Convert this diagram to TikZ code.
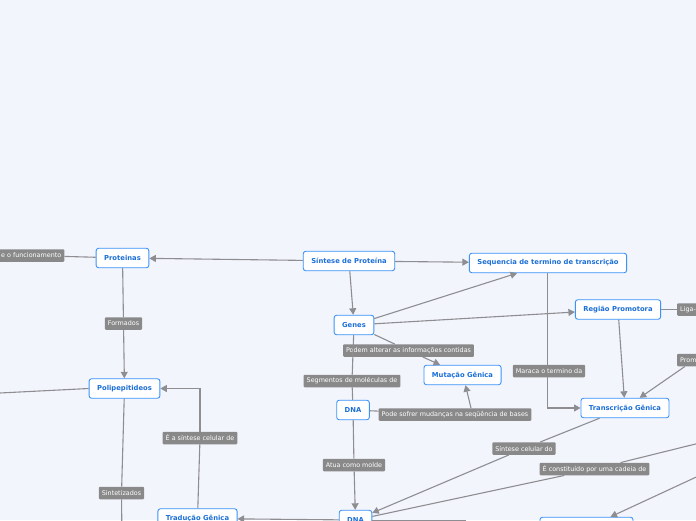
\documentclass[tikz,border=0pt]{standalone}
\usepackage{fontspec}
\setmainfont{DejaVu Sans}
\usetikzlibrary{arrows.meta}
\definecolor{pagebg}{HTML}{F3F5FD}
\definecolor{conceptblue}{HTML}{3A92FA}
\definecolor{concepttext}{HTML}{1C6FD6}
\definecolor{labelgray}{HTML}{898989}
\definecolor{edgegray}{HTML}{8E8E92}
\tikzstyle{concept}=[draw=conceptblue, fill=white, line width=0.9pt, rounded corners=2.5pt, text=concepttext, font=\fontsize{6.8}{7}\selectfont\bfseries, inner xsep=8pt, inner ysep=0pt, minimum height=19.5pt]
\tikzstyle{linklabel}=[fill=labelgray, rounded corners=1pt, text=white, font=\fontsize{6.4}{7}\selectfont, inner xsep=3pt, inner ysep=0pt, minimum height=12.5pt]
\tikzstyle{edge}=[draw=edgegray, line width=1.1pt]
\tikzstyle{arrowedge}=[edge, -{Triangle[length=6.5pt,width=7pt]}]

\begin{document}
\begin{tikzpicture}[x=1pt,y=-1pt]
				\useasboundingbox (0,0) rectangle (696,520);
				\clip (0,0) rectangle (696,520);
				\fill[pagebg] (0,0) rectangle (696,520);
				
				% concepts
				\node[concept] (sintese) at (349,261) {Síntese de Proteína};
				\node[concept] (proteinas) at (122.5,258) {Proteinas};
				\node[concept] (sequencia) at (548,263) {Sequencia de termino de transcrição};
				\node[concept] (regiao) at (618,309.5) {Região Promotora};
				\node[concept] (genes) at (354,325) {Genes};
				\node[concept] (mutacao) at (462.5,375) {Mutação Gênica};
				\node[concept] (dna) at (353,410) {DNA};
				\node[concept] (polip) at (124.5,388.5) {Polipepitideos};
				\node[concept] (transcricao) at (625,408) {Transcrição Gênica};
				\node[concept] (traducao) at (197.5,518.5) {Tradução Gênica};
				\node[concept] (dnab) at (355.5,520) {DNA};
				\node[concept, minimum width=93pt] (cadeia) at (586.5,527) {};
				
				% link labels
				\node[linklabel, anchor=east] (funcao) at (64.5,255.5) {e o funcionamento};
				\node[linklabel] (formados) at (123.5,323.5) {Formados};
				\node[linklabel] (alterar) at (408.5,350.5) {Podem alterar as informações contidas};
				\node[linklabel] (segmentos) at (352,381) {Segmentos de moléculas de};
				\node[linklabel] (maraca) at (549,371) {Maraca o termino da};
				\node[linklabel] (mudancas) at (455,414.5) {Pode sofrer mudanças na seqüência de bases};
				\node[linklabel] (sintdep) at (200,438) {É a síntese celular de};
				\node[linklabel] (sintcel) at (524,448.5) {Síntese celular do};
				\node[linklabel] (molde) at (354,465) {Atua como molde};
				\node[linklabel] (constituido) at (594.5,469) {É constituído por uma cadeia de};
				\node[linklabel] (sintetiz) at (121.5,493) {Sintetizados};
				\node[linklabel, anchor=west] (liga) at (677,309.5) {Liga-se};
				\node[linklabel, anchor=west] (promove) at (677,360) {Promove};
				
				% free ends
				\coordinate (polipleft) at (-20,394);
				\coordinate (polipdown) at (122,545);
				\coordinate (cadeiaright) at (740,433);
				\coordinate (rightin) at (720,466);
				\coordinate (dnadown) at (465,545);
				
				\draw[arrowedge] (sintese) to (proteinas);
				\draw[arrowedge] (sintese) to (sequencia);
				\draw[arrowedge] (sintese) to (genes);
				\draw[arrowedge] (genes) to ([xshift=-31pt]sequencia.south);
				\draw[arrowedge] (genes) to (regiao);
				\draw[edge] (genes) to (alterar);
				\draw[arrowedge] (alterar) to (mutacao);
				\draw[edge] (genes) to (segmentos);
				\draw[edge] (segmentos) to (dna);
				\draw[edge] (dna) to (mudancas);
				\draw[arrowedge] ([xshift=16pt]mudancas.north) to ([xshift=3pt]mutacao.south);
				\draw[edge] (dna) to (molde);
				\draw[arrowedge] (molde) to (dnab);
				
				\draw[edge] (proteinas) to (funcao);
				\draw[edge] (proteinas) to (formados);
				\draw[arrowedge] (formados) to (polip);
				\draw[edge] (polip.west) to (polipleft);
				\draw[edge] (polip) to (sintetiz);
				\draw[edge] (sintetiz) to (polipdown);
				\draw[edge] (traducao) to (sintdep);
				\draw[arrowedge] (sintdep.north) |- (polip.east);
				
				\draw[edge] ([xshift=-0.5pt]sequencia.south) to ([xshift=-0.5pt]sequencia.south |- maraca.north);
				\draw[arrowedge] ([xshift=-0.5pt]sequencia.south |- maraca.south) |- (transcricao.west);
				\draw[arrowedge] (regiao) to (transcricao);
				\draw[edge] (regiao) to (liga);
				\draw[arrowedge] (promove) to (transcricao);
				\draw[edge] (transcricao) to (sintcel);
				\draw[arrowedge] (sintcel) to (dnab);
				\draw[edge] (dnab) to (constituido);
				\draw[edge] (constituido) to (cadeiaright);
				\draw[arrowedge] (rightin) to ([xshift=24pt]cadeia.north);
				\draw[arrowedge] (dnab) to (traducao);
				\draw[edge] ([yshift=-1pt]dnab.east) -| (dnadown);
			\end{tikzpicture}
\end{document}
